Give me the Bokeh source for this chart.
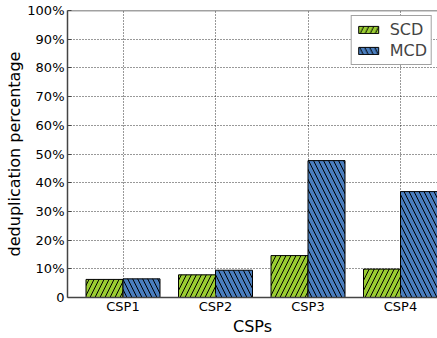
from bokeh.plotting import figure
from bokeh.models import ColumnDataSource, FixedTicker, Span
from bokeh.transform import dodge
from bokeh.embed import file_html
from bokeh.resources import INLINE

categories = ["CSP1", "CSP2", "CSP3", "CSP4"]
scd = [6.3, 7.9, 14.6, 9.9]
mcd = [6.5, 9.5, 47.7, 36.9]
y_ticks = [0, 10, 20, 30, 40, 50, 60, 70, 80, 90, 100]
y_tick_labels = ["0", "10%", "20%", "30%", "40%", "50%", "60%", "70%", "80%", "90%", "100%"]

idx = list(range(len(categories)))
src = ColumnDataSource(dict(x=idx, scd=scd, mcd=mcd))

FONT = "DejaVu Sans"

p = figure(width=437, height=338, output_backend="svg", toolbar_location=None,
           x_range=(-0.6, 3.4), y_range=(0, 100),
           min_border_left=67, min_border_right=0, min_border_top=10, min_border_bottom=41)
p.outline_line_color = None
p.background_fill_color = "white"
p.border_fill_color = "white"

bw = 0.4
p.vbar(x=dodge("x", -bw / 2), top="scd", width=bw, source=src,
       fill_color="#9acd32", line_color="black", line_width=1,
       hatch_pattern="/", hatch_color="black", hatch_scale=10, hatch_weight=1,
       legend_label="SCD")
p.vbar(x=dodge("x", bw / 2), top="mcd", width=bw, source=src,
       fill_color="#4a7ebf", line_color="black", line_width=1,
       hatch_pattern="\\", hatch_color="black", hatch_scale=10, hatch_weight=1,
       legend_label="MCD")

p.xaxis.ticker = FixedTicker(ticks=idx)
p.xaxis.major_label_overrides = {i: c for i, c in zip(idx, categories)}
p.yaxis.ticker = FixedTicker(ticks=y_ticks)
p.yaxis.major_label_overrides = {t: l for t, l in zip(y_ticks, y_tick_labels)}
p.xaxis.axis_label = "CSPs"
p.yaxis.axis_label = "deduplication percentage"
for ax in (p.xaxis, p.yaxis):
    ax.axis_label_text_font = FONT
    ax.axis_label_text_font_style = "normal"
    ax.axis_label_text_font_size = "16px"
    ax.axis_label_text_color = "black"
    ax.major_label_text_font = FONT
    ax.major_label_text_font_size = "13px"
    ax.major_label_text_color = "black"
    ax.major_label_standoff = 3
    ax.axis_label_standoff = 0
    ax.major_tick_in = 4
    ax.major_tick_out = 0
    ax.minor_tick_line_color = None
    ax.axis_line_color = "#444444"
    ax.axis_line_width = 1.5
    ax.major_tick_line_color = "#444444"
p.xaxis.major_label_standoff = 1

p.add_layout(Span(location=100, dimension="width", line_color="#444444", line_width=1.5))

p.xgrid.ticker = FixedTicker(ticks=idx)
p.ygrid.ticker = FixedTicker(ticks=y_ticks)
for g in (p.xgrid, p.ygrid):
    g.grid_line_color = "black"
    g.grid_line_dash = "1 2"
    g.grid_line_width = 1
    g.grid_line_alpha = 0.8

lg = p.legend[0]
lg.location = "top_right"
lg.margin = 5
lg.padding = 4
lg.spacing = 2
lg.glyph_width = 25
lg.glyph_height = 9
lg.label_height = 16
lg.label_standoff = 9
lg.label_text_font = FONT
lg.label_text_font_size = "16px"
lg.border_line_color = "#444444"
lg.border_line_width = 1
lg.background_fill_color = "white"
lg.background_fill_alpha = 1

open("out.html", "w").write(file_html(p, INLINE))
